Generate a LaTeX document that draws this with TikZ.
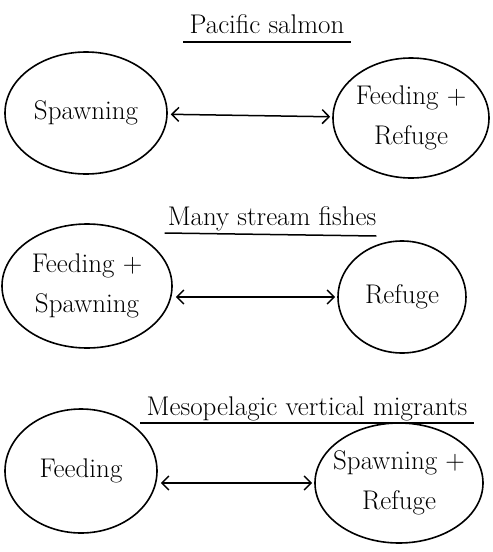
\documentclass[tikz,border=0pt]{standalone}
\usepackage{amsmath,amssymb}
\usetikzlibrary{shapes.geometric,arrows.meta}
\newcommand\handsize{\fontsize{27}{40}\selectfont}

\begin{document}
\begin{tikzpicture}[x=1pt,y=-1pt,
  habitat/.style={ellipse,draw,line width=1.6pt,inner sep=-15pt,align=center,font=\handsize},
  heading/.style={font=\handsize,anchor=base,inner xsep=0pt},
  rule/.style={line width=1.5pt},
  move/.style={line width=1.5pt,{Straight Barb[length=7pt,width=14pt]}-{Straight Barb[length=7pt,width=14pt]},shorten <=3pt,shorten >=2pt}]
\useasboundingbox (0,0) rectangle (493,552);
%\draw [help lines,step=50] (0,0) grid (493,552);

% salmon
\node [heading] (t1) at (267,33) {Pacific salmon};
\draw [rule] ([xshift=-6pt,yshift=-9pt]t1.base west) -- ([xshift=6pt,yshift=-9pt]t1.base east);
\node [habitat,minimum width=162pt,minimum height=122pt] (sp1) at (86,113) {Spawning};
\node [habitat,minimum width=156pt,minimum height=120pt] (fr1) at (411,118) {Feeding +\\Refuge};
\draw [move] (sp1) -- (fr1);

% stream fishes
\node [heading] (t2) at (272,225) {Many stream fishes};
\draw [rule] ([xshift=-3pt,yshift=-8pt]t2.base west) -- ([xshift=0pt,yshift=-11pt]t2.base east);
\node [habitat,minimum width=170pt,minimum height=124pt] (fs2) at (87,286) {Feeding +\\Spawning};
\node [habitat,minimum width=128pt,minimum height=112pt] (rf2) at (402,297) {Refuge};
\draw [move] (fs2.east |- rf2.west) -- (rf2.west);

% vertical migrants
\node [heading] (t3) at (307,415) {Mesopelagic vertical migrants};
\draw [rule] ([xshift=-6pt,yshift=-8pt]t3.base west) -- ([xshift=6pt,yshift=-8pt]t3.base east);
\node [habitat,minimum width=152pt,minimum height=124pt] (fe3) at (81,471) {Feeding};
\node [habitat,minimum width=168pt,minimum height=120pt] (sr3) at (399,483) {Spawning +\\Refuge};
\draw [move] (fe3.east |- sr3.west) -- (sr3.west);
\end{tikzpicture}
\end{document}
